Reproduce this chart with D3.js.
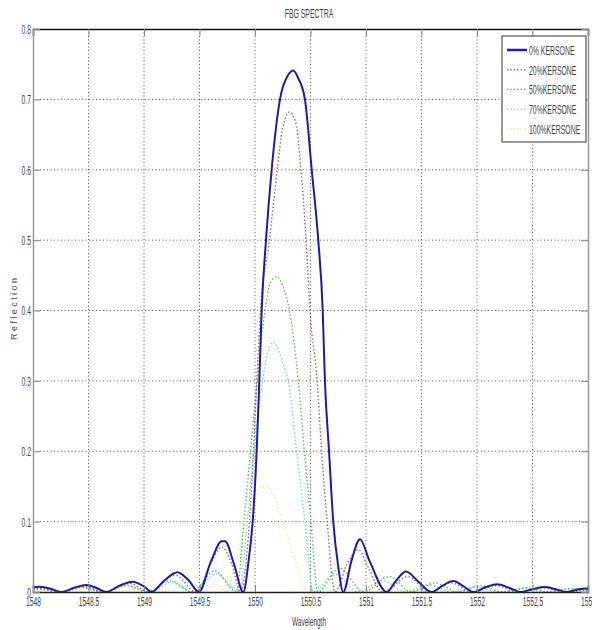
<!DOCTYPE html>
<html>
<head>
<meta charset="utf-8">
<script src="https://cdn.jsdelivr.net/npm/d3@7"></script>
<style>
  body { margin: 0; background: #fff; }
  text { font-family: "Liberation Sans", Arial, sans-serif; fill: #444; }
</style>
</head>
<body>
<script>
// FBG reflection spectra for several kerosene concentrations

var width = 592;
var height = 630;

var xTicks = [1548, 1548.5, 1549, 1549.5, 1550, 1550.5, 1551, 1551.5, 1552, 1552.5, 1553];
var yTicks = [0, 0.1, 0.2, 0.3, 0.4, 0.5, 0.6, 0.7, 0.8];

var seriesNames = ["0% KERSONE", "20%KERSONE", "50%KERSONE", "70%KERSONE", "100%KERSONE"];
var seriesColors = ["#1c1ca6", "#c0504d", "#3cc43c", "#50d8ec", "#ecec7c"];

// [wavelength nm, reflection]
var kerosene0 = [
  [1548.00, 0.006], [1548.05, 0.0075], [1548.15, 0.005], [1548.26, 0.0], [1548.37, 0.006],
  [1548.48, 0.010], [1548.57, 0.006], [1548.66, 0.0], [1548.78, 0.009], [1548.895, 0.0146],
  [1549.00, 0.008], [1549.07, 0.0], [1549.18, 0.016], [1549.30, 0.028], [1549.40, 0.017],
  [1549.495, 0.0], [1549.60, 0.042], [1549.70, 0.072], [1549.73, 0.072], [1549.81, 0.04],
  [1549.895, 0.0], [1549.94, 0.041], [1549.979, 0.1], [1550.015, 0.2], [1550.039, 0.3],
  [1550.06, 0.4], [1550.099, 0.5], [1550.15, 0.6], [1550.225, 0.7], [1550.30, 0.735],
  [1550.345, 0.741], [1550.39, 0.73], [1550.45, 0.7], [1550.511, 0.6], [1550.57, 0.5],
  [1550.61, 0.4], [1550.63, 0.3], [1550.667, 0.2], [1550.705, 0.1], [1550.75, 0.036],
  [1550.795, 0.0], [1550.87, 0.045], [1550.946, 0.075], [1551.03, 0.045], [1551.186, 0.0],
  [1551.27, 0.016], [1551.36, 0.029], [1551.47, 0.015], [1551.59, 0.0], [1551.69, 0.009],
  [1551.787, 0.0155], [1551.88, 0.008], [1551.967, 0.0], [1552.08, 0.007], [1552.18, 0.011],
  [1552.29, 0.006], [1552.39, 0.0], [1552.50, 0.004], [1552.61, 0.007], [1552.71, 0.004],
  [1552.81, 0.0], [1552.92, 0.004], [1553.00, 0.005]
];

var kerosene20 = [
  [1548.00, 0.005], [1548.04, 0.006], [1548.24, 0.0], [1548.46, 0.008], [1548.64, 0.0],
  [1548.87, 0.012], [1549.05, 0.0], [1549.28, 0.024], [1549.47, 0.0], [1549.60, 0.04],
  [1549.70, 0.064], [1549.79, 0.04], [1549.87, 0.0], [1549.93, 0.06], [1549.97, 0.15],
  [1550.01, 0.28], [1550.05, 0.4], [1550.13, 0.5], [1550.20, 0.6], [1550.25, 0.66],
  [1550.31, 0.682], [1550.37, 0.665], [1550.414, 0.6], [1550.46, 0.5], [1550.495, 0.4],
  [1550.56, 0.3], [1550.60, 0.2], [1550.65, 0.1], [1550.72, 0.0], [1550.83, 0.04],
  [1550.93, 0.06], [1551.02, 0.035], [1551.15, 0.0], [1551.38, 0.022], [1551.57, 0.0],
  [1551.77, 0.013], [1551.95, 0.0], [1552.17, 0.009], [1552.37, 0.0], [1552.59, 0.006],
  [1552.79, 0.0], [1553.00, 0.004]
];

var kerosene50 = [
  [1548.00, 0.004], [1548.03, 0.005], [1548.23, 0.0], [1548.43, 0.007], [1548.63, 0.0],
  [1548.83, 0.01], [1549.03, 0.0], [1549.23, 0.016], [1549.43, 0.0], [1549.635, 0.03],
  [1549.835, 0.0], [1549.90, 0.1], [1549.96, 0.2], [1550.02, 0.3], [1550.09, 0.4],
  [1550.14, 0.44], [1550.195, 0.448], [1550.25, 0.435], [1550.31, 0.4], [1550.39, 0.3],
  [1550.445, 0.2], [1550.505, 0.1], [1550.565, 0.0], [1550.76, 0.034], [1550.98, 0.0],
  [1551.21, 0.022], [1551.41, 0.0], [1551.62, 0.013], [1551.83, 0.0], [1552.03, 0.009],
  [1552.24, 0.0], [1552.45, 0.006], [1552.66, 0.0], [1552.86, 0.005], [1553.00, 0.002]
];

var kerosene70 = [
  [1548.00, 0.003], [1548.05, 0.004], [1548.25, 0.0], [1548.45, 0.006], [1548.65, 0.0],
  [1548.85, 0.009], [1549.05, 0.0], [1549.25, 0.014], [1549.45, 0.0], [1549.65, 0.026],
  [1549.86, 0.0], [1549.93, 0.1], [1549.99, 0.2], [1550.05, 0.28], [1550.10, 0.33],
  [1550.165, 0.355], [1550.22, 0.34], [1550.26, 0.32], [1550.30, 0.3], [1550.375, 0.2],
  [1550.45, 0.1], [1550.525, 0.0], [1550.72, 0.025], [1550.93, 0.0], [1551.15, 0.016],
  [1551.36, 0.0], [1551.57, 0.01], [1551.78, 0.0], [1551.99, 0.007], [1552.20, 0.0],
  [1552.41, 0.005], [1552.62, 0.0], [1552.83, 0.004], [1553.00, 0.001]
];

var kerosene100 = [
  [1548.00, 0.002], [1548.15, 0.003], [1548.35, 0.0], [1548.55, 0.004], [1548.75, 0.0],
  [1548.95, 0.005], [1549.15, 0.0], [1549.35, 0.007], [1549.54, 0.0], [1549.64, 0.01],
  [1549.74, 0.0], [1549.82, 0.04], [1549.90, 0.09], [1549.98, 0.13], [1550.05, 0.148],
  [1550.105, 0.15], [1550.16, 0.14], [1550.25, 0.1], [1550.35, 0.05], [1550.48, 0.0],
  [1550.60, 0.01], [1550.72, 0.0], [1550.92, 0.005], [1551.12, 0.0], [1551.32, 0.003],
  [1551.52, 0.0], [1551.72, 0.002], [1551.92, 0.0], [1553.00, 0.0]
];

var allSeries = [kerosene0, kerosene20, kerosene50, kerosene70, kerosene100];

var plot = { left: 33, right: 588, top: 29, bottom: 592 };

var svg = d3.select('body')
    .append('svg')
    .attr('width', width)
    .attr('height', height);

var x = d3.scaleLinear().domain([1548, 1553]).range([plot.left, plot.right]);
var y = d3.scaleLinear().domain([0, 0.8]).range([plot.bottom, plot.top]);

// the original uses a very condensed font: squeeze text horizontally around its own x
function squeeze(sel, f) {
    sel.each(function() {
        var t = d3.select(this);
        var ax = +t.attr('x') || 0;
        t.attr('transform', 'translate(' + ax + ',0) scale(' + f + ',1) translate(' + (-ax) + ',0)');
    });
}

// dotted grid
var grid = svg.append('g');
grid.selectAll('.vg')
    .data(xTicks.slice(1, -1))
    .enter()
    .append('line')
    .attr('x1', function(d) { return x(d); })
    .attr('x2', function(d) { return x(d); })
    .attr('y1', plot.top)
    .attr('y2', plot.bottom)
    .attr('stroke', '#555')
    .attr('stroke-width', 1)
    .attr('stroke-dasharray', '1,2.5');
grid.selectAll('.hg')
    .data(yTicks.slice(1, -1))
    .enter()
    .append('line')
    .attr('x1', plot.left)
    .attr('x2', plot.right)
    .attr('y1', function(d) { return y(d); })
    .attr('y2', function(d) { return y(d); })
    .attr('stroke', '#555')
    .attr('stroke-width', 1)
    .attr('stroke-dasharray', '1,2.5');

// curves, drawn back to front
var line = d3.line()
    .x(function(d) { return x(d[0]); })
    .y(function(d) { return y(d[1]); })
    .curve(d3.curveMonotoneX);

for (var i = allSeries.length - 1; i >= 0; i--) {
    svg.append('path')
        .datum(allSeries[i])
        .attr('d', line)
        .attr('fill', 'none')
        .attr('stroke', seriesColors[i])
        .attr('stroke-width', i === 0 ? 2 : 1.4)
        .attr('stroke-dasharray', i === 0 ? null : '1.4,2.2');
}

// axes with inward ticks
var fmt = d3.format('~g');
var bottomAxis = d3.axisBottom(x).tickValues(xTicks).tickSize(-7).tickPadding(5).tickFormat(fmt);
var topAxis = d3.axisTop(x).tickValues(xTicks).tickSize(-7).tickFormat('');
var leftAxis = d3.axisLeft(y).tickValues(yTicks).tickSize(-7).tickPadding(2).tickFormat(fmt);
var rightAxis = d3.axisRight(y).tickValues(yTicks).tickSize(-7).tickFormat('');

var gb = svg.append('g').attr('transform', 'translate(0,' + plot.bottom + ')').call(bottomAxis);
var gt = svg.append('g').attr('transform', 'translate(0,' + plot.top + ')').call(topAxis);
var gl = svg.append('g').attr('transform', 'translate(' + plot.left + ',0)').call(leftAxis);
var gr = svg.append('g').attr('transform', 'translate(' + plot.right + ',0)').call(rightAxis);

[gb, gt, gl, gr].forEach(function(g) {
    g.selectAll('.tick line').attr('stroke', '#888');
    g.selectAll('text').attr('font-size', 13.5).attr('font-family', null).attr('fill', '#444');
});
gb.select('.domain').attr('stroke', '#222').attr('stroke-width', 1.5);
gt.select('.domain').attr('stroke', '#111').attr('stroke-width', 1.5);
gl.select('.domain').attr('stroke', '#999').attr('stroke-width', 1.5);
gr.select('.domain').attr('stroke', '#999').attr('stroke-width', 1.5);
gl.selectAll('text').attr('dy', '0.33em');
gb.selectAll('text').attr('dy', '0.7em');
squeeze(gb.selectAll('text'), 0.5);
squeeze(gl.selectAll('text'), 0.5);

// titles
var title = svg.append('text')
    .attr('x', 309)
    .attr('y', 18)
    .attr('text-anchor', 'middle')
    .attr('font-size', 13)
    .text('FBG SPECTRA');
squeeze(title, 0.53);

var xLabel = svg.append('text')
    .attr('x', 309)
    .attr('y', 626)
    .attr('text-anchor', 'middle')
    .attr('font-size', 13)
    .text('Wavelength');
squeeze(xLabel, 0.5);

svg.append('text')
    .attr('transform', 'translate(17,309) rotate(-90)')
    .attr('text-anchor', 'middle')
    .attr('font-size', 9)
    .attr('fill', '#333')
    .attr('textLength', 62)
    .attr('lengthAdjust', 'spacing')
    .text('Reflection');

// legend
var legend = svg.append('g');
legend.append('rect')
    .attr('x', 502)
    .attr('y', 36)
    .attr('width', 84)
    .attr('height', 106)
    .attr('fill', '#fff')
    .attr('stroke', '#333')
    .attr('stroke-width', 1);

var items = legend.selectAll('.item')
    .data(seriesNames)
    .enter()
    .append('g')
    .attr('transform', function(d, i) { return 'translate(0,' + (50 + i * 19.7) + ')'; });

items.append('line')
    .attr('x1', 507)
    .attr('x2', 527)
    .attr('stroke', function(d, i) { return seriesColors[i]; })
    .attr('stroke-width', function(d, i) { return i === 0 ? 2.5 : 1.4; })
    .attr('stroke-dasharray', function(d, i) { return i === 0 ? null : '1.4,2'; });

var labels = items.append('text')
    .attr('x', 529)
    .attr('dy', '0.38em')
    .attr('font-size', 13)
    .text(function(d) { return d; });
squeeze(labels, 0.53);
</script>
</body>
</html>
